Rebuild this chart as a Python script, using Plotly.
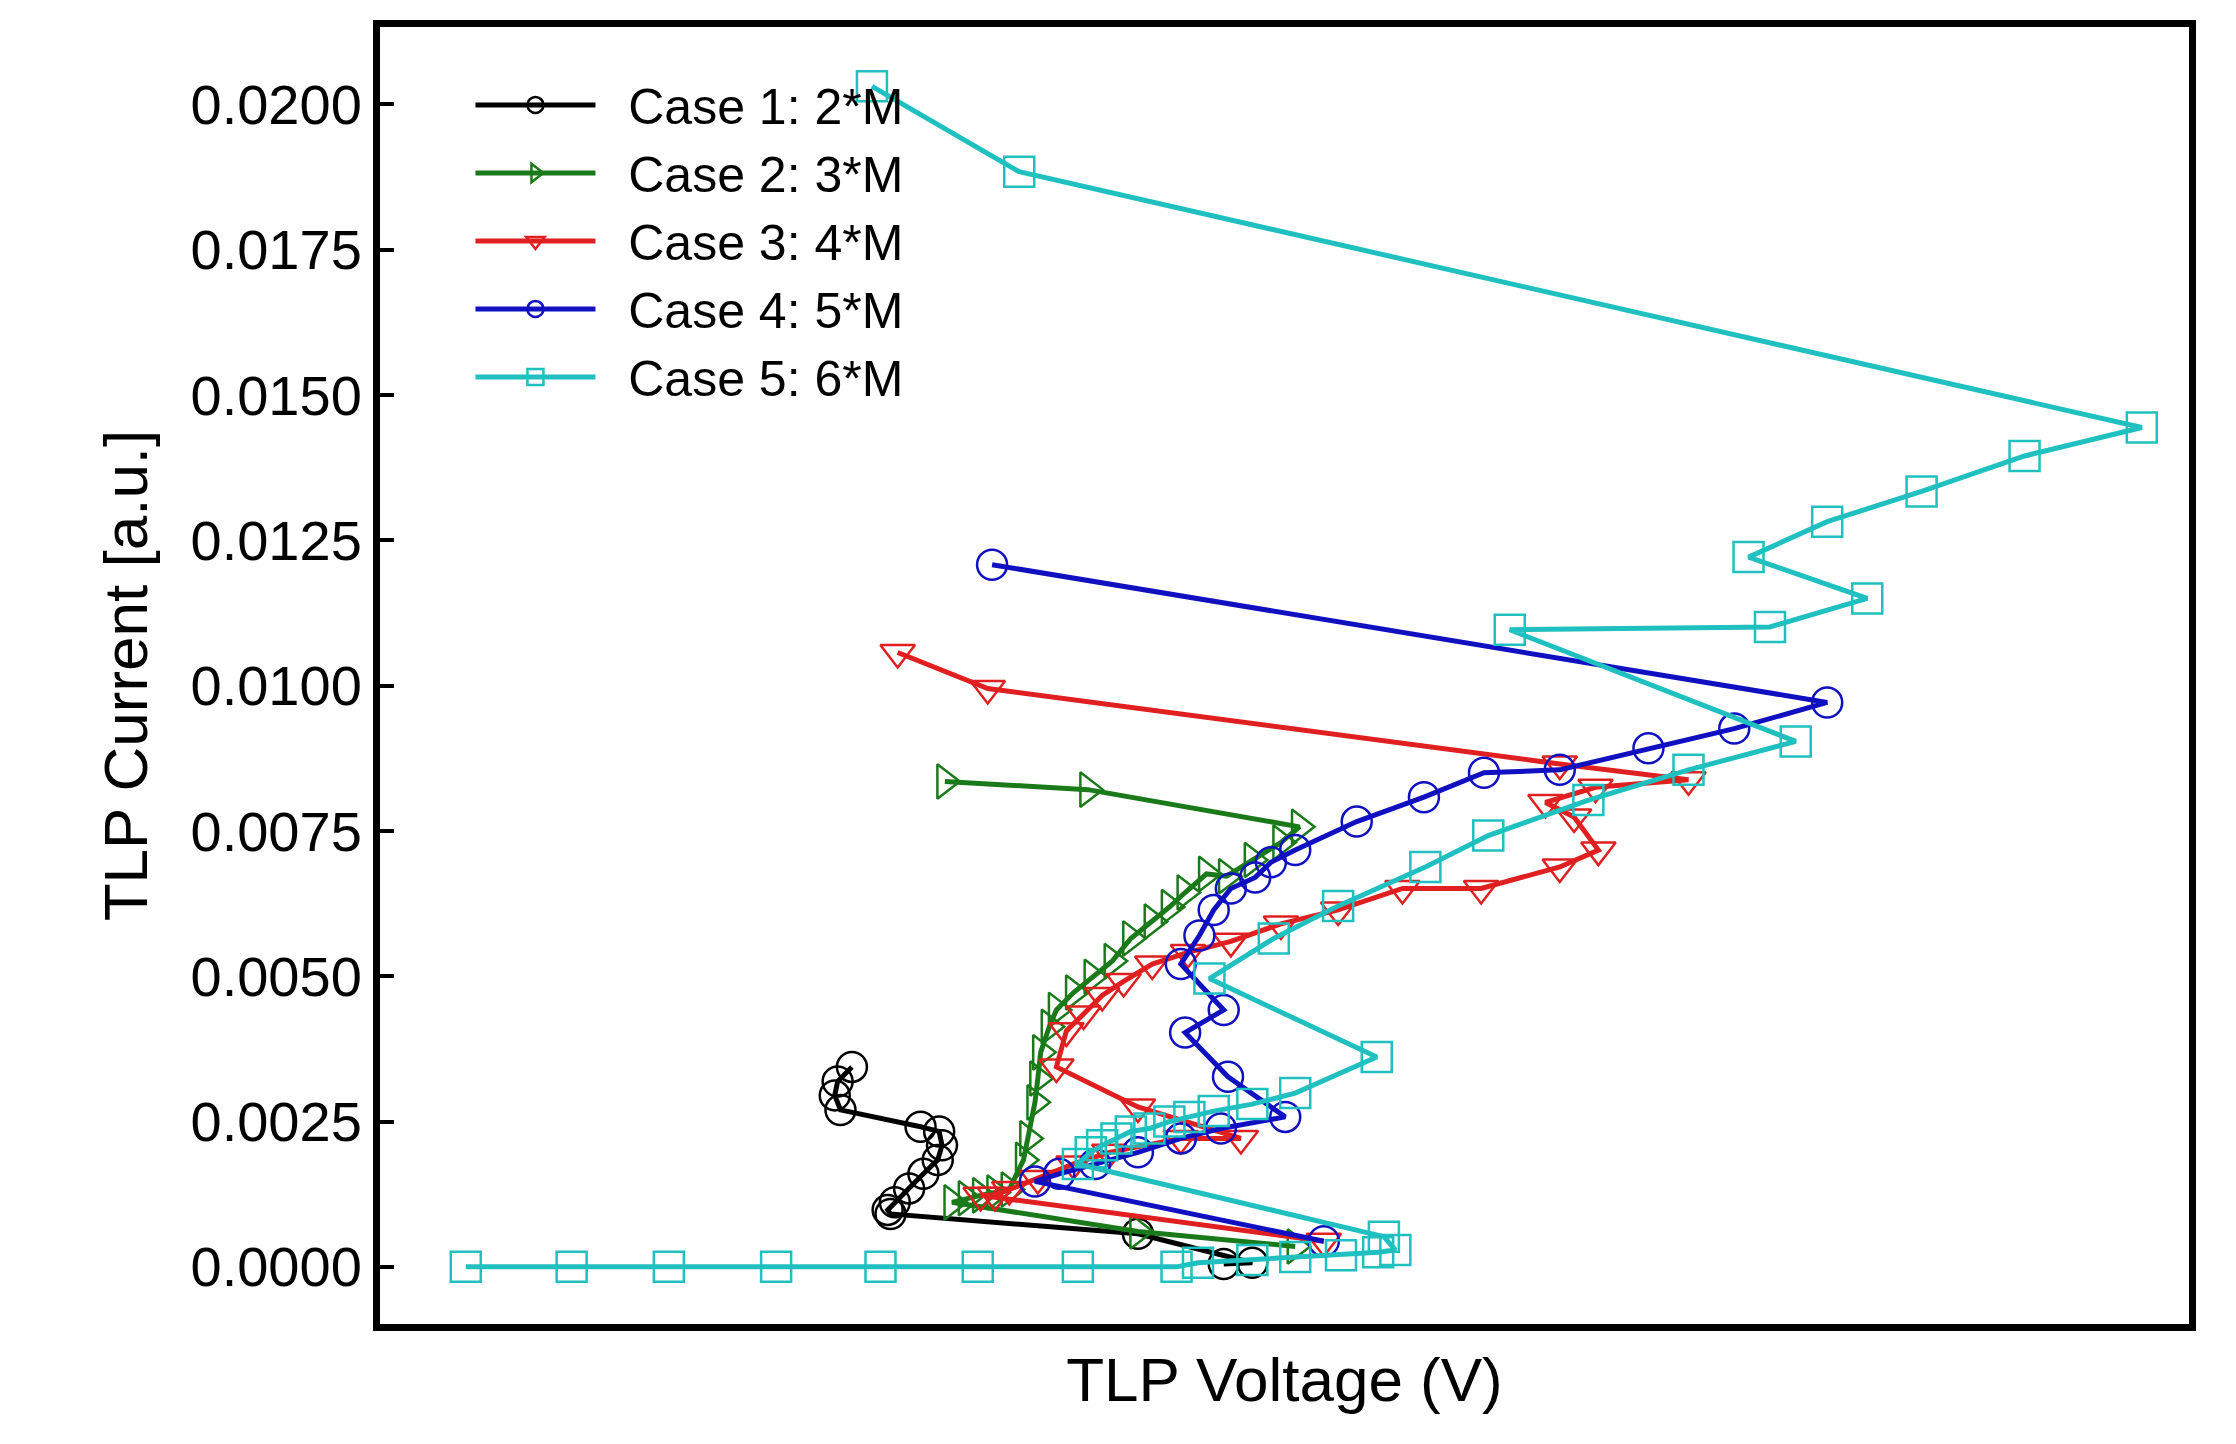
import plotly.graph_objects as go

# Voltage (arbitrary units) and current [a.u.]
c1_v = [53.0, 55.0, 47.0, 29.7, 29.5, 30.0, 31.0, 32.0, 33.0, 33.3, 33.1, 31.8, 26.2, 25.8, 26.0, 27.0]
c1_i = [0.00005, 0.00007, 0.00057, 0.00091, 0.00098, 0.00111, 0.00135, 0.00160, 0.00184, 0.00209, 0.00233, 0.00241, 0.00270, 0.00295, 0.00319, 0.00344]

c2_v = [58.0, 47.0, 34.0, 35.0, 36.0, 37.0, 38.0, 39.0, 39.3, 39.8, 40.0, 40.2, 40.8, 41.3, 42.5, 43.8, 45.2, 46.5, 48.0, 49.2, 50.3, 51.8, 53.2, 55.0, 57.0, 58.3, 43.5, 33.5]
c2_i = [0.00035, 0.00061, 0.00111, 0.00118, 0.00123, 0.00128, 0.00133, 0.00184, 0.00221, 0.00283, 0.00324, 0.00369, 0.00413, 0.00442, 0.00472, 0.00499, 0.00526, 0.00565, 0.00594, 0.00619, 0.00644, 0.00676, 0.00672, 0.00700, 0.00730, 0.00757, 0.00821, 0.00835]

c3_v = [60.0, 36.0, 37.0, 38.0, 40.0, 42.5, 45.0, 50.0, 54.2, 47.0, 41.3, 42.0, 43.2, 44.5, 46.0, 48.0, 50.5, 53.5, 57.0, 61.0, 65.5, 71.0, 76.5, 79.2, 77.5, 75.5, 79.0, 85.5, 76.5, 36.5, 30.2]
c3_i = [0.00044, 0.00123, 0.00123, 0.00133, 0.00152, 0.00177, 0.00197, 0.00221, 0.00221, 0.00275, 0.00344, 0.00406, 0.00435, 0.00467, 0.00491, 0.00521, 0.00541, 0.00560, 0.00590, 0.00614, 0.00651, 0.00651, 0.00688, 0.00717, 0.00774, 0.00799, 0.00825, 0.00838, 0.00865, 0.00995, 0.01057]

c4_v = [60.0, 39.8, 41.5, 44.0, 47.0, 50.0, 52.8, 57.3, 53.3, 50.3, 53.0, 50.0, 51.3, 52.3, 53.5, 55.2, 56.3, 58.0, 62.3, 67.0, 71.2, 76.5, 82.7, 88.7, 95.2, 36.8]
c4_i = [0.00044, 0.00147, 0.00160, 0.00177, 0.00197, 0.00221, 0.00238, 0.00258, 0.00327, 0.00403, 0.00442, 0.00521, 0.00570, 0.00614, 0.00651, 0.00670, 0.00696, 0.00717, 0.00766, 0.00808, 0.00850, 0.00855, 0.00892, 0.00926, 0.00971, 0.01208]

c5_v = [0.0, 7.4, 14.2, 21.7, 29.0, 35.8, 42.8, 49.7, 51.2, 55.0, 58.0, 61.2, 63.8, 65.0, 64.2, 42.8, 43.7, 44.5, 45.5, 46.5, 47.8, 49.2, 50.6, 52.3, 55.0, 58.0, 63.7, 52.0, 56.5, 61.0, 67.1, 71.5, 78.5, 85.5, 93.0, 73.0, 91.2, 98.0, 89.7, 95.2, 101.8, 109.0, 117.2, 38.7, 28.4]
c5_i = [0.0, 0.0, 0.0, 0.0, 0.0, 0.0, 0.0, 0.0, 0.00007, 0.00012, 0.00017, 0.00020, 0.00025, 0.00029, 0.00052, 0.00177, 0.00197, 0.00209, 0.00221, 0.00233, 0.00238, 0.00250, 0.00258, 0.00268, 0.00280, 0.00299, 0.00361, 0.00496, 0.00565, 0.00621, 0.00688, 0.00742, 0.00803, 0.00855, 0.00904, 0.01096, 0.01101, 0.01150, 0.01221, 0.01282, 0.01334, 0.01395, 0.01444, 0.01884, 0.02031]

names = ["Case 1: 2*M", "Case 2: 3*M", "Case 3: 4*M", "Case 4: 5*M", "Case 5: 6*M"]
colors = ["#000000", "#1a7a1a", "#e02020", "#1010c0", "#20c0c0"]
symbols = ["circle-open", "triangle-right-open", "triangle-down-open", "circle-open", "square-open"]
series = [(c1_v, c1_i), (c2_v, c2_i), (c3_v, c3_i), (c4_v, c4_i), (c5_v, c5_i)]

fig = go.Figure()
for (v, i), n, c, s in zip(series, names, colors, symbols):
    fig.add_trace(go.Scatter(
        x=v, y=i, name="  " + n, mode="lines+markers",
        line=dict(color=c, width=5),
        marker=dict(symbol=s, size=30, color=c, line=dict(width=2.5, color=c)),
    ))

fnt = dict(family="Liberation Sans, Arial, sans-serif", color="black")
fig.update_layout(
    width=2236, height=1444, plot_bgcolor="white", paper_bgcolor="white",
    margin=dict(l=372, r=55, t=17, b=128),
    font=dict(size=50, **fnt),
    showlegend=True,
    legend=dict(x=0.05, y=0.97, xanchor="left", yanchor="top", bgcolor="rgba(0,0,0,0)",
                font=dict(size=50, **fnt), itemwidth=120, tracegroupgap=22),
    xaxis=dict(range=[-6, 120.5], showticklabels=False, ticks="", showgrid=False, zeroline=False,
               showline=True, linecolor="black", linewidth=7, mirror=True,
               title=dict(text="TLP Voltage (V)", font=dict(size=62, **fnt), standoff=30)),
    yaxis=dict(range=[-0.000983, 0.02133], tickvals=[0, 0.0025, 0.005, 0.0075, 0.01, 0.0125, 0.015, 0.0175, 0.02],
               tickformat=".4f", ticks="inside", ticklen=14, tickwidth=4, tickcolor="black",
               showgrid=False, zeroline=False, tickfont=dict(size=56, **fnt),
               showline=True, linecolor="black", linewidth=7, mirror=True,
               title=dict(text="TLP Current [a.u.]", font=dict(size=62, **fnt), standoff=25)),
)
fig.write_html("out.html")
